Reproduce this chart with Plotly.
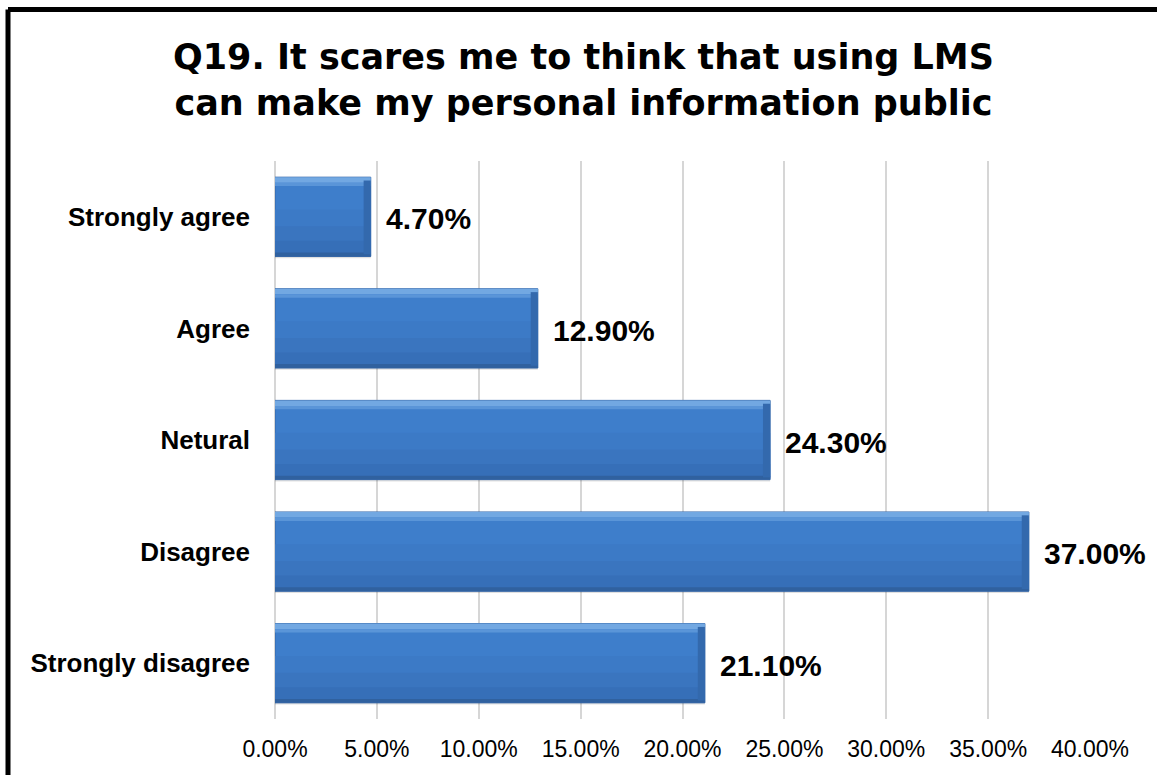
import numpy as np
import plotly.graph_objects as go

# Survey responses, listed top to bottom as shown
categories = ["Strongly agree", "Agree", "Netural", "Disagree", "Strongly disagree"]
shares = [0.047, 0.129, 0.243, 0.370, 0.211]

# x-axis ticks
tick_values = [0.00, 0.05, 0.10, 0.15, 0.20, 0.25, 0.30, 0.35, 0.40]
tick_labels = ["0.00%", "5.00%", "10.00%", "15.00%", "20.00%", "25.00%", "30.00%", "35.00%", "40.00%"]

title_text = "Q19. It scares me to think that using LMS<br>can make my personal information public"

FONT = "Liberation Sans, Arial, sans-serif"
TITLE_FONT = "DejaVu Sans, Liberation Sans, sans-serif"
BAR_W = 0.71
HALF = BAR_W / 2

vals = np.array(shares)
edge = 0.0035

# plot-area geometry in page pixels, used to place the frame and title
L, R, T, B = 275, 1090, 161, 719


def px_x(p):
    return (p - L) / (R - L)


def px_y(p):
    return (B - p) / (B - T)


fig = go.Figure()


def band(width, offset, color, **extra):
    """One horizontal slice of every bar, used to build the bevelled look."""
    fig.add_trace(go.Bar(
        y=categories, x=extra.pop("x", vals), orientation="h",
        width=width, offset=offset,
        marker=dict(color=color, line=extra.pop("line", dict(width=0))),
        hoverinfo=extra.pop("hoverinfo", "skip"), showlegend=False, **extra,
    ))


# soft shadow under each bar
band(BAR_W, -HALF - 0.016, "rgba(0,0,0,0.12)")
# main bar body
band(BAR_W, -HALF, "#3e7ecb", line=dict(color="#3467a8", width=1), hoverinfo="x")
# vertical shading: slightly darker towards the bottom
band(0.40, -HALF + 0.02, "#3c7ac6")
band(0.25, -HALF + 0.02, "#3a75bf")
band(0.12, -HALF + 0.02, "#366fb8")
# light bevel along the top edge
band(0.05, HALF - 0.05, "#72a8e2")
band(0.03, HALF - 0.08, "#5a95d8")
# dark bevel along the bottom edge
band(0.035, -HALF, "#30619f")
# dark bevel on the right end
band(BAR_W - 0.05, -HALF + 0.02, "#3369ad",
     x=np.full_like(vals, edge), base=vals - edge)

# value labels beside each bar
for cat, v in zip(categories, shares):
    fig.add_annotation(
        x=v, y=cat, text=f"<b>{v:.2%}</b>", showarrow=False,
        xanchor="left", yanchor="middle", xshift=13, yshift=-2,
        font=dict(family=FONT, size=30, color="black"),
    )

# chart title
fig.add_annotation(
    xref="paper", yref="paper", x=px_x(583), y=px_y(80),
    xanchor="center", yanchor="middle", showarrow=False,
    text=f"<b>{title_text}</b>", align="center",
    font=dict(family=TITLE_FONT, size=35, color="black"),
)

# frame along the top and left edges of the page
fig.add_shape(type="line", xref="paper", yref="paper",
              x0=px_x(8), x1=px_x(1162), y0=px_y(9.5), y1=px_y(9.5),
              line=dict(color="black", width=5))
fig.add_shape(type="line", xref="paper", yref="paper",
              x0=px_x(8), x1=px_x(8), y0=px_y(9.5), y1=px_y(780),
              line=dict(color="black", width=5))

fig.update_layout(
    width=1157, height=775,
    margin=dict(l=L, r=1157 - R, t=T, b=775 - B),
    paper_bgcolor="white", plot_bgcolor="white",
    barmode="overlay",
    xaxis=dict(range=[0, 0.40], tickvals=tick_values, ticktext=tick_labels,
               showgrid=True, gridcolor="#d6d6d6", gridwidth=1.5,
               zeroline=True, zerolinecolor="#d6d6d6", zerolinewidth=1.5,
               showline=False, ticks="", ticklabelstandoff=14,
               tickfont=dict(family=FONT, size=23, color="black"),
               fixedrange=True),
    yaxis=dict(categoryorder="array", categoryarray=categories[::-1],
               range=[-0.5, 4.5], showgrid=False, zeroline=False, showline=False,
               ticks="", ticklabelstandoff=24,
               tickfont=dict(family=FONT, size=26, color="black"),
               tickprefix="<b>", ticksuffix="</b>",
               fixedrange=True),
    showlegend=False,
)

fig.write_html("out.html")
